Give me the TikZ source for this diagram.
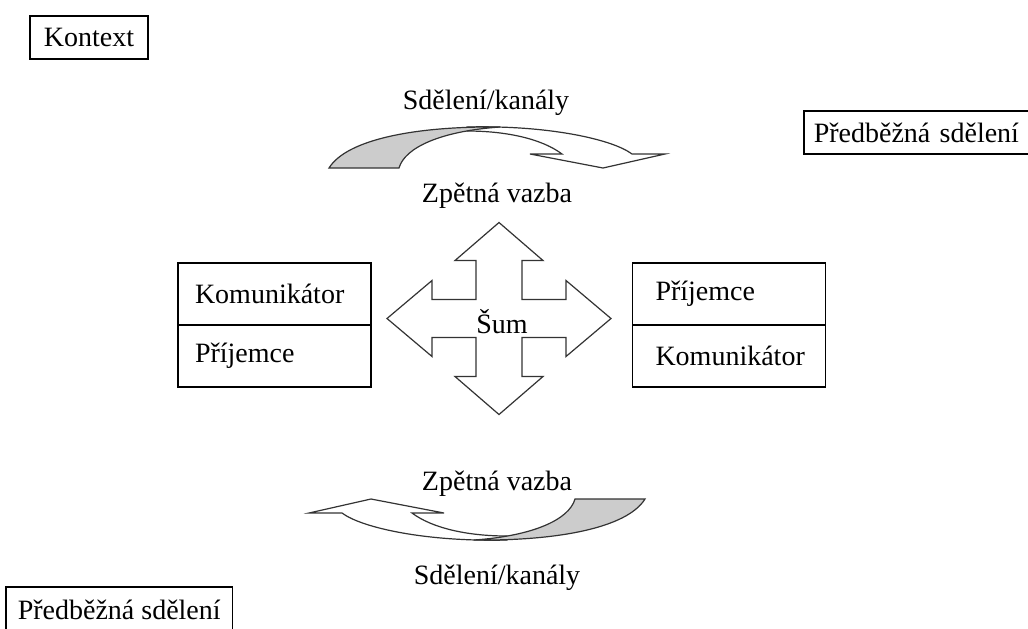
\documentclass[tikz,border=0pt]{standalone}
\usepackage{fontspec}
\setmainfont{Liberation Serif}
\definecolor{tailgray}{HTML}{CCCCCC}
\definecolor{edgegray}{HTML}{333333}

\begin{document}
\begin{tikzpicture}[x=0.5pt,y=-0.5pt,font=\fontsize{14pt}{16pt}\selectfont]
	\tikzset{tagbox/.style={draw,line width=0.75pt,inner ysep=0pt,minimum height=21.5pt}}
	\tikzset{cellL/.style={draw,line width=0.75pt,minimum height=31pt,inner xsep=8.5pt,text width=79.5pt,align=left}}
	\tikzset{cellR/.style={draw,line width=0.75pt,minimum height=31pt,inner xsep=11.5pt,text width=73.5pt,align=left}}
	\tikzset{band/.style={draw=edgegray,line width=0.6pt,line join=miter,fill=white}}
	\tikzset{swoosh/.pic={
		\draw[band] (-30,-20) .. controls (50,-22) and (115,-8) .. (135,7) -- (168,7) -- (106,21) -- (33,7) -- (65,7) .. controls (45,-8) and (10,-16) .. (-30,-16) -- cycle;
		\draw[band,fill=tailgray] (-168,21) .. controls (-150,-8) and (-80,-21) .. (3,-20) .. controls (-55,-16) and (-92,0) .. (-98,21) -- cycle;
	}}
	\useasboundingbox (0,0) rectangle (1028,628);
	\clip (0,0) rectangle (1028,628);
	\node[tagbox,inner xsep=7pt] (kontext) at (89,37.5) {Kontext};
	\node[tagbox,anchor=west,inner xsep=5pt,text width=110pt,align=left] (predA) at (803,132.5) {Předběžná sdělení};
	\node[tagbox,anchor=west,inner xsep=6pt,minimum height=23pt] (predB) at (5,610) {Předběžná sdělení};
	\pic at (497,147) {swoosh};
	\pic[rotate=180] at (477,520) {swoosh};
	\node (kanalA) at (486,103) {Sdělení/kanály};
	\node (vazbaA) at (497,196) {Zpětná vazba};
	\node (vazbaB) at (497,484) {Zpětná vazba};
	\node (kanalB) at (497,578) {Sdělení/kanály};
	\node[cellL] (komL) at (274.5,294) {Komunikátor};
	\node[cellL] (priL) at (274.5,356) {Příjemce};
	\node[cellR] (priR) at (729,294) {Příjemce};
	\node[cellR] (komR) at (729,356) {Komunikátor};
	\begin{scope}[shift={(499,318.5)}]
		\draw[band] (0,-96) -- (44,-58) -- (23,-58) -- (23,-19) -- (67,-19) -- (67,-38) -- (112,0) -- (67,38) -- (67,19) -- (23,19) -- (23,58) -- (44,58) -- (0,96) -- (-44,58) -- (-23,58) -- (-23,19) -- (-67,19) -- (-67,38) -- (-112,0) -- (-67,-38) -- (-67,-19) -- (-23,-19) -- (-23,-58) -- (-44,-58) -- cycle;
	\end{scope}
	\node (sum) at (502,322) {Šum};
\end{tikzpicture}
\end{document}
